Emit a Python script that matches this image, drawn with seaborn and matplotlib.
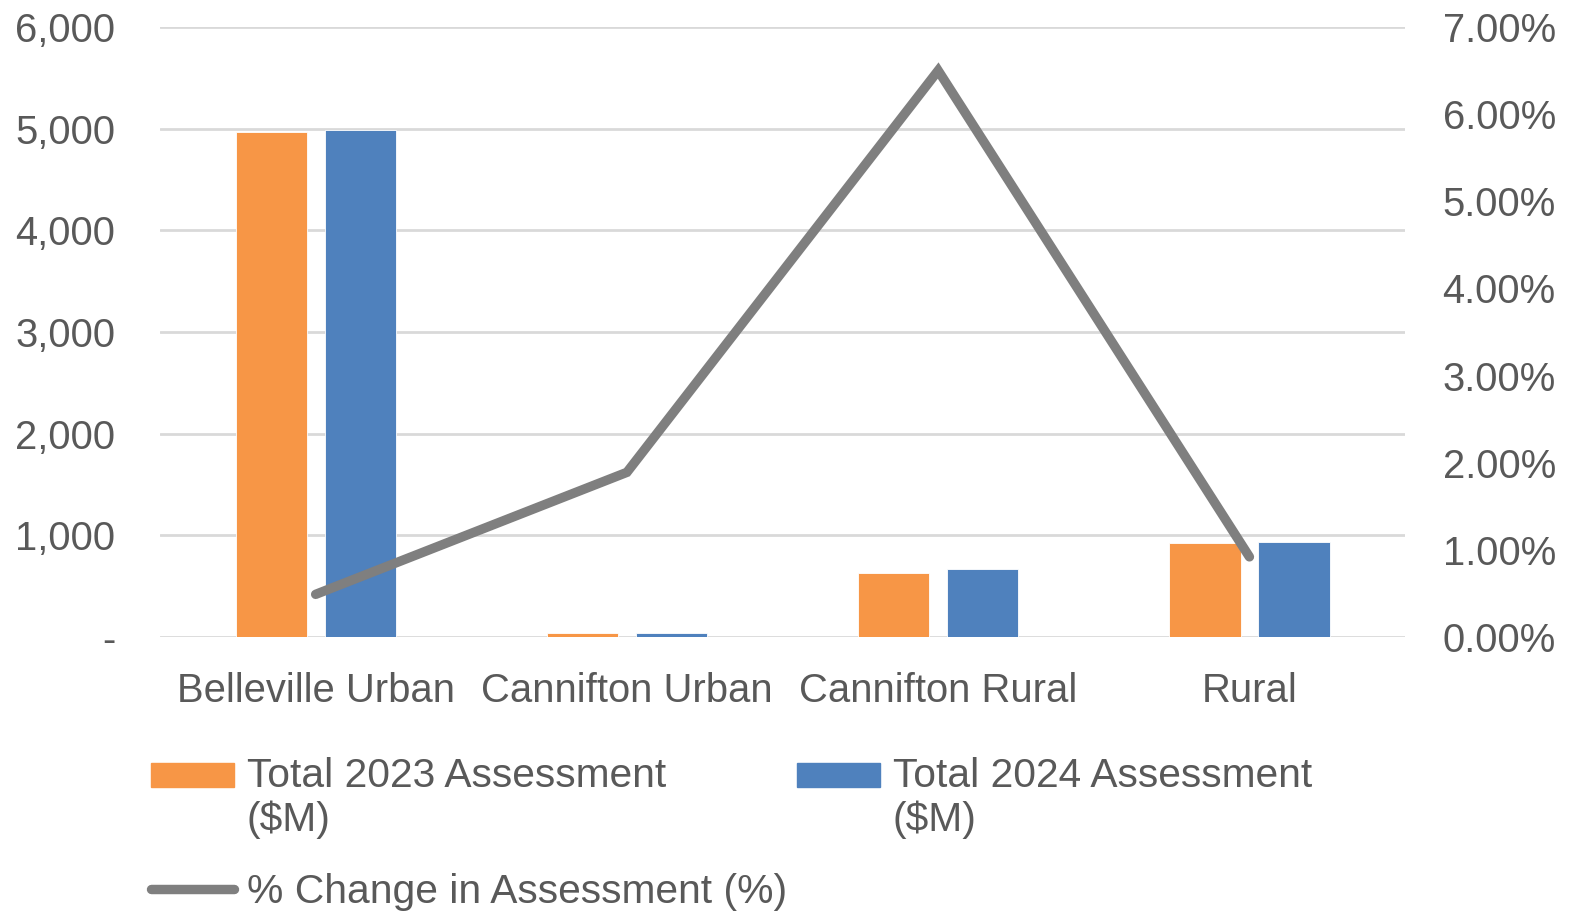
import numpy as np
import pandas as pd
import seaborn as sns
import matplotlib.pyplot as plt
from matplotlib.patches import Patch, Rectangle
from matplotlib.lines import Line2D
from matplotlib.legend_handler import HandlerPatch
from matplotlib.ticker import FuncFormatter

# data
categories = ['Belleville Urban', 'Cannifton Urban', 'Cannifton Rural', 'Rural']
assess_2023 = [4965, 35, 630, 925]
assess_2024 = [4985, 38, 670, 935]
pct_change = [0.49, 1.89, 6.50, 0.92]
series_names = ['Total 2023 Assessment\n($M)', 'Total 2024 Assessment\n($M)']
line_name = '% Change in Assessment (%)'

orange = '#F79646'
blue = '#4F81BD'
grey = '#7F7F7F'
text_col = '#595959'

df = pd.DataFrame({
    'region': categories * 2,
    'series': [series_names[0]] * 4 + [series_names[1]] * 4,
    'value': assess_2023 + assess_2024,
})

sns.set_style('white')
plt.rcParams['font.family'] = ['Liberation Sans', 'DejaVu Sans']

fig = plt.figure(figsize=(15.75, 9.14), dpi=100)
ax = fig.add_axes([0.1016, 0.303, 0.7905, 0.6675])

sns.barplot(data=df, x='region', y='value', hue='series', order=categories,
            palette=[orange, blue], saturation=1, width=0.572, gap=0.2, ax=ax,
            legend=False, edgecolor='white', linewidth=0.6)
ax.set_ylim(0, 6000)
ax.set_yticks(range(0, 6001, 1000))
ax.yaxis.set_major_formatter(FuncFormatter(lambda v, p: '-' if v == 0 else f'{int(v):,}'))
ax.grid(axis='y', color='#d9d9d9', lw=2)
ax.set_axisbelow(True)
ax.set_xlabel('')
ax.set_ylabel('')
ax.set_xlim(-0.5, 3.5)
ax.tick_params(axis='y', labelsize=28.8, colors=text_col, length=0, pad=32)
ax.tick_params(axis='x', labelsize=28.8, colors=text_col, length=0, pad=25)
for s in ax.spines.values():
    s.set_visible(False)

ax2 = ax.twinx()
ax2.plot(np.arange(len(categories)), pct_change, color=grey, lw=6.8,
         solid_capstyle='round', solid_joinstyle='miter')
ax2.set_ylim(0, 7)
ax2.set_yticks(range(0, 8))
ax2.yaxis.set_major_formatter(FuncFormatter(lambda v, p: f'{v:.2f}%'))
ax2.tick_params(axis='y', labelsize=28.8, colors=text_col, length=0, pad=27)
for s in ax2.spines.values():
    s.set_visible(False)


# patch handle sits on the first line of a two-line label
def top_patch(legend, orig_handle, xdescent, ydescent, width, height, fontsize):
    return Rectangle((-xdescent, -ydescent + 0.58 * fontsize), width, height)


handles = [Patch(color=orange), Line2D([], [], color=grey, lw=6.8), Patch(color=blue)]
labels = [series_names[0], line_name, series_names[1]]
leg = fig.legend(handles, labels, loc='upper left', bbox_to_anchor=(0.0855, 0.19),
                 ncol=2, frameon=False, fontsize=29.3, labelcolor=text_col,
                 handlelength=2.05, handleheight=0.55, handletextpad=0.3,
                 columnspacing=0.25, labelspacing=0.82, borderaxespad=0,
                 handler_map={Patch: HandlerPatch(patch_func=top_patch)})

fig.savefig('out.png', dpi=100)
